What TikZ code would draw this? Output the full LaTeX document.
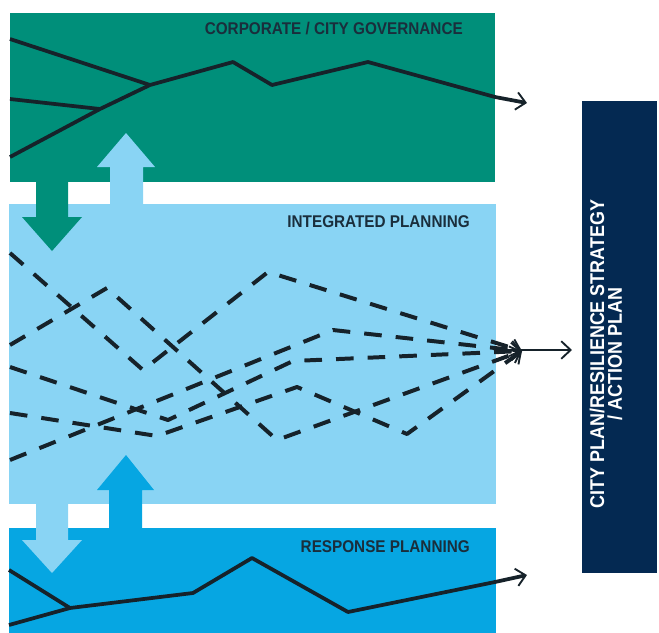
\documentclass[tikz,border=0pt]{standalone}
\usepackage{fontspec}
\usetikzlibrary{arrows.meta}
\newfontfamily\bandfont[FakeStretch=0.9]{Liberation Sans}
\definecolor{govgreen}{RGB}{0,143,122}
\definecolor{intblue}{RGB}{137,212,244}
\definecolor{respblue}{RGB}{6,166,226}
\definecolor{plannavy}{RGB}{4,41,82}
\definecolor{trackdark}{RGB}{22,34,42}
\definecolor{labeldark}{RGB}{26,46,60}

\begin{document}
\begin{tikzpicture}[x=0.03cm,y=-0.03cm,
        track/.style={draw=trackdark,line width=3.2pt,line join=round},
        route/.style={track,line width=3.4pt,dash pattern=on 15pt off 12pt},
        tip/.style={-{Straight Barb[length=8pt,width=15pt,line width=1.6pt]}},
        bandlabel/.style={anchor=east,inner sep=0pt,text=labeldark,
            font=\bandfont\bfseries\fontsize{14.5pt}{16pt}\selectfont}]

    \useasboundingbox (0,0) rectangle (659,633);

    % bands
    \fill[govgreen] (10,13) rectangle (495,182);
    \fill[intblue] (9,204) rectangle (496,504);
    \fill[respblue] (9,528) rectangle (496,633);
    \fill[plannavy] (582,101) rectangle (657,573);

    % block arrows between the bands
    \fill[govgreen] (36,175) -- (68,175) -- (68,217) -- (82,217) -- (52,251) -- (22,217) -- (36,217) -- cycle;
    \fill[intblue] (110,210) -- (143,210) -- (143,167) -- (155,167) -- (126,133) -- (97,167) -- (110,167) -- cycle;
    \fill[respblue] (109,535) -- (142,535) -- (142,490) -- (154,490) -- (126,455) -- (97,490) -- (109,490) -- cycle;
    \fill[intblue] (36,498) -- (68,498) -- (68,540) -- (82,540) -- (52,573) -- (22,540) -- (36,540) -- cycle;

    \node[bandlabel] (govlabel) at (463,29) {CORPORATE / CITY GOVERNANCE};
    \node[bandlabel] (intlabel) at (470,222) {INTEGRATED PLANNING};
    \node[bandlabel] (resplabel) at (470,547) {RESPONSE PLANNING};
    \node[rotate=90,align=center,inner sep=0pt,text=white,
        font=\bandfont\bfseries\fontsize{17pt}{15pt}\selectfont] (planlabel) at (606,354)
        {CITY PLAN/RESILIENCE STRATEGY\\/ ACTION PLAN};

    % governance track
    \coordinate (gA) at (10,39);
    \coordinate (gB) at (10,99);
    \coordinate (gC) at (10,157);
    \coordinate (gJ) at (100,109);
    \coordinate (gK) at (150,85);
    \coordinate (g1) at (233,62);
    \coordinate (g2) at (272,85);
    \coordinate (g3) at (368,62);
    \coordinate (g4) at (495,97);
    \coordinate (gEnd) at (527,103);
    \draw[track] (gA) -- (gK);
    \draw[track] (gB) -- (gJ);
    \draw[track,tip] (gC) -- (gJ) -- (gK) -- (g1) -- (g2) -- (g3) -- (g4) -- (gEnd);

    % integrated routes
    \coordinate (hub) at (522,351);
    \coordinate (edge) at (497,350);
    \coordinate (out) at (572,350);
    \draw[route,tip] (10,253) -- (143,370) -- (268,272) -- (hub);
    \draw[route,tip] (10,345) -- (107,288) -- (277,440) -- (hub);
    \draw[route,tip] (10,413) -- (157,436) -- (297,387) -- (407,434) -- (hub);
    \draw[route,tip] (10,367) -- (168,420) -- (293,361) -- (hub);
    \draw[route,tip] (10,460) -- (333,330) -- (hub);
    \draw[track,line width=1.8pt,tip] (edge) -- (out);

    % response track
    \coordinate (rA) at (9,570);
    \coordinate (rB) at (9,625);
    \coordinate (rJ) at (70,608);
    \coordinate (r1) at (193,593);
    \coordinate (r2) at (252,558);
    \coordinate (r3) at (348,612);
    \coordinate (r4) at (495,582);
    \coordinate (rEnd) at (527,575);
    \draw[track] (rA) -- (rJ);
    \draw[track,tip] (rB) -- (rJ) -- (r1) -- (r2) -- (r3) -- (r4) -- (rEnd);

\end{tikzpicture}
\end{document}
